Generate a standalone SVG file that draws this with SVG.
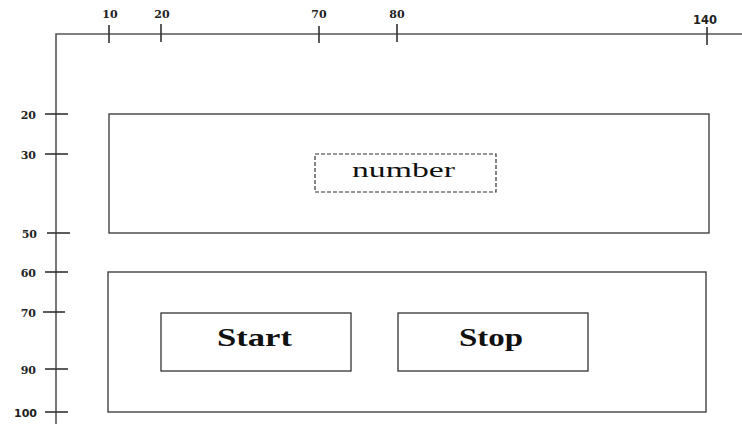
<svg xmlns="http://www.w3.org/2000/svg" width="742" height="426" viewBox="0 0 742 426">
  <style>
    .axis { stroke: #555; stroke-width: 1.6; fill: none; }
    .tick { stroke: #333; stroke-width: 1.6; }
    .lbl { font-family: "DejaVu Serif", "Liberation Serif", serif; font-weight: bold; font-size: 11px; fill: #222; }
    .box { fill: #fff; stroke: #333; stroke-width: 1.3; }
    .dash { fill: none; stroke: #333; stroke-width: 1.2; stroke-dasharray: 4 2; }
    .num { font-family: "Liberation Serif", "Times New Roman", serif; font-size: 22px; fill: #111; }
    .btn { font-family: "Liberation Serif", "Times New Roman", serif; font-weight: bold; font-size: 26px; fill: #111; }
  </style>

  <!-- ruler axes -->
  <g id="axes">
    <path class="axis" d="M56 424 V34 H742"/>
    <!-- top ticks -->
    <g class="tick">
      <line x1="109" y1="25" x2="109" y2="43"/>
      <line x1="161" y1="24" x2="161" y2="42"/>
      <line x1="319" y1="26" x2="319" y2="43"/>
      <line x1="397" y1="24" x2="397" y2="42"/>
      <line x1="707" y1="27" x2="707" y2="45"/>
    </g>
    <g class="lbl" text-anchor="middle" font-size="12">
      <text x="110" y="18">10</text>
      <text x="162" y="18">20</text>
      <text x="319" y="18">70</text>
      <text x="397" y="18">80</text>
      <text x="705" y="24" font-family="DejaVu Sans, sans-serif" font-size="11.5">140</text>
    </g>
    <!-- left ticks -->
    <g class="tick">
      <line x1="45" y1="114" x2="68" y2="114"/>
      <line x1="45" y1="154" x2="68" y2="154"/>
      <line x1="47" y1="233" x2="70" y2="233"/>
      <line x1="45" y1="272" x2="68" y2="272"/>
      <line x1="43" y1="312" x2="65" y2="312"/>
      <line x1="45" y1="369" x2="68" y2="369"/>
      <line x1="45" y1="412" x2="68" y2="412"/>
    </g>
    <g class="lbl" text-anchor="end">
      <text x="36" y="119">20</text>
      <text x="36" y="159">30</text>
      <text x="37" y="238">50</text>
      <text x="36" y="277">60</text>
      <text x="36" y="317">70</text>
      <text x="36" y="374">90</text>
      <text x="37" y="417" font-family="DejaVu Sans, sans-serif">100</text>
    </g>
  </g>

  <!-- display panel -->
  <g id="display">
    <rect class="box" x="109" y="114" width="600" height="119"/>
  </g>
  <g id="number">
    <rect class="dash" x="315" y="154" width="181" height="38"/>
    <text class="num" x="352" y="177" textLength="103" lengthAdjust="spacingAndGlyphs">number</text>
  </g>

  <!-- button panel -->
  <g id="controls">
    <rect class="box" x="108" y="272" width="598" height="140"/>
  </g>
  <g id="start">
    <rect class="box" x="161" y="313" width="190" height="58"/>
    <text class="btn" x="217" y="346" textLength="75" lengthAdjust="spacingAndGlyphs">Start</text>
  </g>
  <g id="stop">
    <rect class="box" x="398" y="313" width="190" height="58"/>
    <text class="btn" x="459" y="346" textLength="64" lengthAdjust="spacingAndGlyphs">Stop</text>
  </g>

  <g id="connectors"/>
</svg>
